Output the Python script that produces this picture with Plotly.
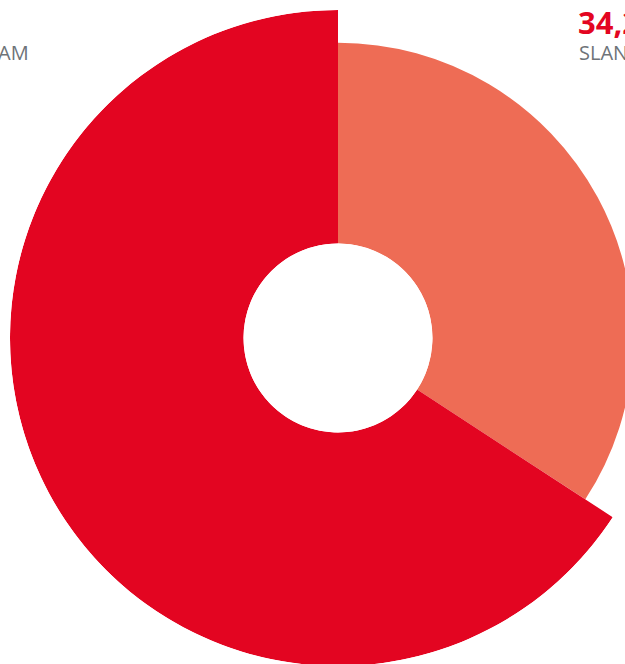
import plotly.graph_objects as go

# Data
labels = ["SLAN", "AM"]
shares = [34.2, 65.8]          # percent of the whole (angular size)
radii = [86, 100]              # relative radial length of each slice
value_text = ["34,2%", "65,8%"]
colors = ["#EE6C55", "#E30521"]

# Angles from cumulative shares (clockwise from top)
thetas, widths = [], []
start = 0.0
for s in shares:
    w = s / sum(shares) * 360.0
    thetas.append(start + w / 2)
    widths.append(w)
    start += w

W, H = 676, 676
L = T = R = B = 10
PW, PH = W - L - R, H - T - B

def px_x(px):
    return (px - L) / PW

def px_y(py):
    return 1 - (py - T) / PH

fig = go.Figure()
fig.add_trace(go.Barpolar(
    r=radii,
    theta=thetas,
    width=widths,
    marker=dict(color=colors, line=dict(width=0)),
    hoverinfo="skip",
))

fig.update_layout(
    width=W, height=H, autosize=False,
    margin=dict(l=L, r=R, t=T, b=B),
    paper_bgcolor="white",
    showlegend=False,
    polar=dict(
        domain=dict(x=[0, 1], y=[0, 1]),
        bgcolor="white",
        hole=0.288,
        bargap=0,
        radialaxis=dict(visible=False, range=[0, 100]),
        angularaxis=dict(visible=False, rotation=90, direction="clockwise"),
    ),
    font=dict(family="Open Sans"),
)

fig.add_annotation(text="<b>" + value_text[0] + "</b>", xref="paper", yref="paper",
                   x=px_x(576), y=px_y(-1), xanchor="left", yanchor="top",
                   showarrow=False, font=dict(size=31, color="#E30521", family="Open Sans"))
fig.add_annotation(text=labels[0], xref="paper", yref="paper",
                   x=px_x(577), y=px_y(37), xanchor="left", yanchor="top",
                   showarrow=False, font=dict(size=20, color="#6E7378", family="Open Sans"))
fig.add_annotation(text=labels[1], xref="paper", yref="paper",
                   x=px_x(31), y=px_y(37), xanchor="right", yanchor="top",
                   showarrow=False, font=dict(size=20, color="#6E7378", family="Open Sans"))

fig.write_html("out.html", config={"displayModeBar": False},
               post_script="document.body.style.margin='0';document.body.style.overflow='hidden';")
